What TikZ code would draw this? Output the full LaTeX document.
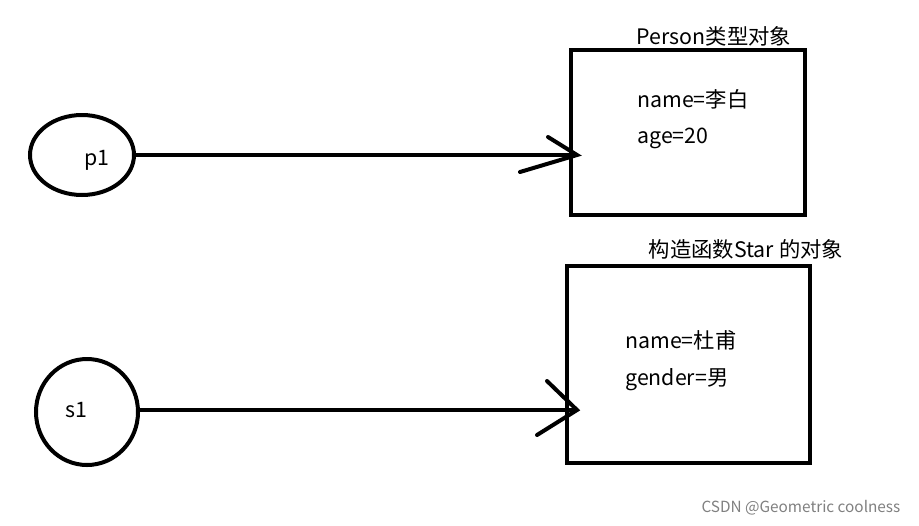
\documentclass[tikz,border=0pt]{standalone}
\usepackage{fontspec}
\usetikzlibrary{shapes.geometric}
\setmainfont{Noto Sans CJK SC}
\begin{document}
\begin{tikzpicture}[x=0.75pt,y=-0.75pt,
  ln/.style={line width=3pt},
  circ/.style={ln,draw,ellipse,inner sep=0pt},
  txt/.style={font=\fontsize{16}{19}\selectfont,inner sep=0pt},
  lbl/.style={txt,anchor=west}]
\useasboundingbox (0,0) rectangle (919,525);
\fill[white] (0,0) rectangle (919,525);
\node[circ,minimum width=78pt,minimum height=60pt] (p1) at (82,155) {};
\node[txt] (p1t) at (97,160) {p1};
\node[circ,minimum width=76.5pt,minimum height=79.5pt] (s1) at (87,412) {};
\node[txt] (s1t) at (76,410) {s1};
\draw[ln] (571,50) rectangle (805,215);
\draw[ln] (567,266) rectangle (810,463);
\node[txt] (t1) at (714,36) {Person类型对象};
\node[txt] (t2) at (746,249) {构造函数Star 的对象};
\node[lbl] (a1) at (637,99) {name=李白};
\node[lbl] (a2) at (637,138) {age=20};
\node[lbl] (b1) at (625,340) {name=杜甫};
\node[lbl] (b2) at (625,380) {gender=男};
\coordinate (e1) at (577,155);
\coordinate (e2) at (577,410);
\draw[ln] (p1.east) -- (e1);
\draw[ln,line cap=round] (548,137) -- (e1) -- (520,172);
\draw[ln] (s1.east|-e2) -- (e2);
\draw[ln,line cap=round] (547,381) -- (e2) -- (537,435);
\node[font=\fontsize{11.5}{13}\selectfont,text=gray,anchor=east] (wm) at (905,508) {CSDN @Geometric coolness};
\end{tikzpicture}
\end{document}
